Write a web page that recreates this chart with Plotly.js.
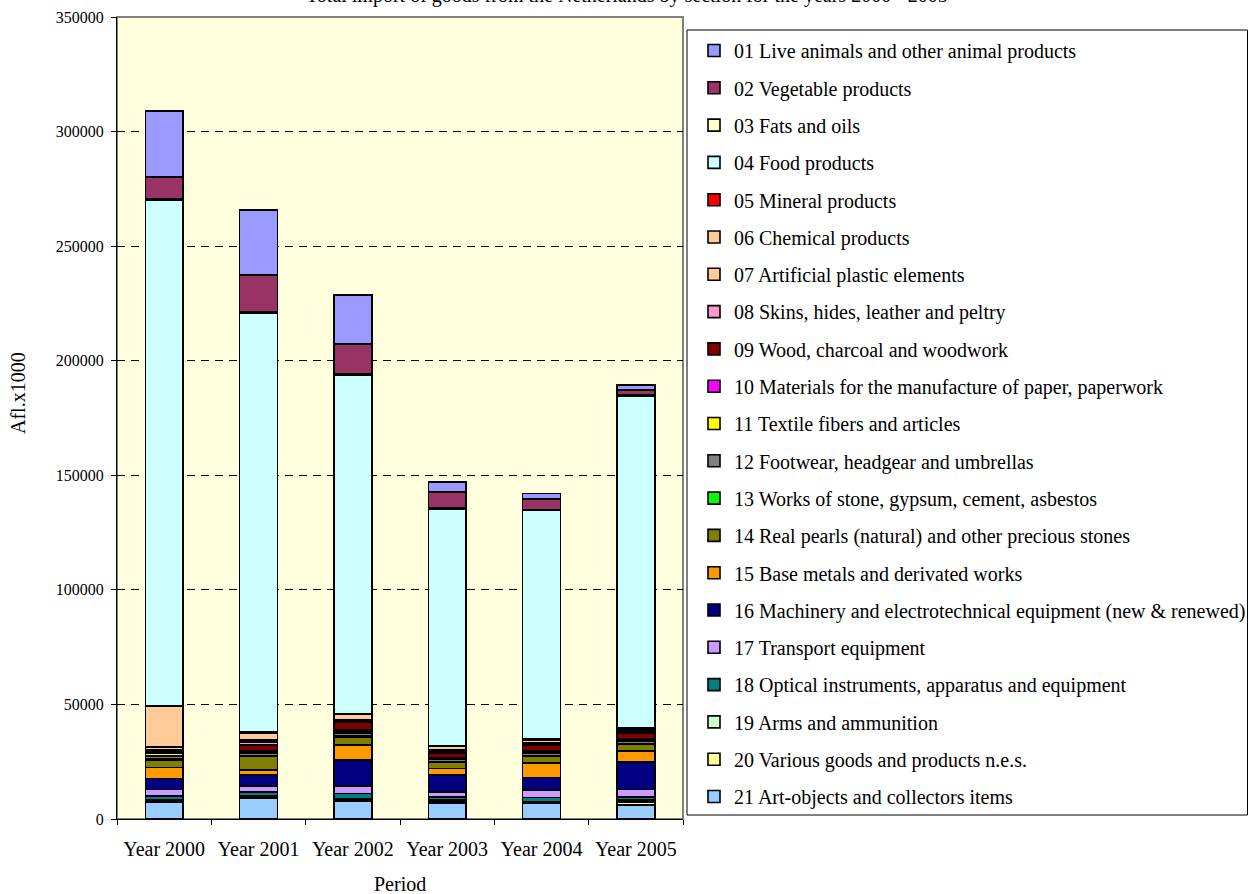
<!DOCTYPE html>
<html>
<head>
<meta charset="utf-8">
<script src="https://cdn.plot.ly/plotly-3.0.1.min.js"></script>
<style>html,body{margin:0;padding:0;background:#fff;}#chart{width:1248px;height:894px;}</style>
</head>
<body>
<div id="chart"></div>
<script>
const categories = ['Year 2000','Year 2001','Year 2002','Year 2003','Year 2004','Year 2005'];

const s01 = [29000, 28400, 21400, 4300, 2400, 2200];
const s02 = [9400, 16000, 13100, 7200, 4600, 2200];
const s03 = [700, 600, 600, 400, 400, 500];
const s04 = [220700, 182900, 147600, 103300, 99800, 144800];
const s05 = [200, 300, 200, 300, 300, 600];
const s06 = [17800, 3200, 2500, 1600, 1400, 700];
const s07 = [900, 700, 800, 600, 500, 400];
const s08 = [600, 1400, 300, 500, 500, 500];
const s09 = [1000, 2500, 3300, 2000, 2500, 2700];
const s10 = [300, 500, 700, 500, 400, 400];
const s11 = [900, 400, 600, 300, 400, 500];
const s12 = [1500, 1200, 1500, 1000, 1200, 1000];
const s13 = [300, 500, 600, 400, 400, 400];
const s14 = [3400, 5800, 3300, 2600, 2900, 2900];
const s15 = [4800, 2200, 6500, 2900, 6300, 4700];
const s16 = [4800, 4700, 11300, 7300, 5400, 12000];
const s17 = [2800, 2700, 3200, 2400, 3300, 3200];
const s18 = [1500, 1800, 2200, 1300, 1700, 1500];
const s19 = [300, 400, 500, 300, 300, 900];
const s20 = [800, 600, 700, 800, 500, 1200];
const s21 = [7400, 9000, 7800, 7100, 6850, 6100];

const seriesNames = [
  '01 Live animals and other animal products',
  '02 Vegetable products',
  '03 Fats and oils',
  '04 Food products',
  '05 Mineral products',
  '06 Chemical products',
  '07 Artificial plastic elements',
  '08 Skins, hides, leather and peltry',
  '09 Wood, charcoal and woodwork',
  '10 Materials for the manufacture of paper, paperwork',
  '11 Textile fibers and articles',
  '12 Footwear, headgear and umbrellas',
  '13 Works of stone, gypsum, cement, asbestos',
  '14 Real pearls (natural) and other precious stones',
  '15 Base metals and derivated works',
  '16 Machinery and electrotechnical equipment (new & renewed)',
  '17 Transport equipment',
  '18 Optical instruments, apparatus and equipment',
  '19 Arms and ammunition',
  '20 Various goods and products n.e.s.',
  '21 Art-objects and collectors items'
];
const seriesColors = ['#9999FF','#993366','#FFFFCC','#CCFFFF','#FF0000','#FFCC99','#FFCC99','#FF99CC','#800000','#FF00FF','#FFFF00','#808080','#00FF00','#808000','#FF9900','#000080','#CC99FF','#008080','#CCFFCC','#FFFF99','#99CCFF'];
const seriesValues = [s01,s02,s03,s04,s05,s06,s07,s08,s09,s10,s11,s12,s13,s14,s15,s16,s17,s18,s19,s20,s21];

const FONT = 'Liberation Serif, Times New Roman, serif';
const FS = 20;

const traces = [];
for (let i = seriesValues.length - 1; i >= 0; i--) {
  traces.push({
    type: 'bar',
    name: seriesNames[i],
    x: categories,
    y: seriesValues[i],
    legendgroup: 'g' + i,
    legendrank: i + 1,
    marker: {color: seriesColors[i], line: {color: '#000', width: 1.6}},
    hoverinfo: 'name+y'
  });
}

const L = 117, R = 683, T = 17, B = 819, W = 1248, H = 894;
const pw = R - L, ph = B - T;
const px = v => (v - L) / pw;
const py = v => (B - v) / ph;

const layout = {
  width: W, height: H,
  margin: {l: L, r: W - R, t: T, b: H - B, pad: 0, autoexpand: false},
  paper_bgcolor: '#ffffff',
  plot_bgcolor: '#FFFFDD',
  barmode: 'stack',
  bargap: 0.6,
  showlegend: true,
  font: {family: FONT, size: FS, color: '#000'},
  xaxis: {
    type: 'category',
    showline: true, linecolor: '#000', linewidth: 1,
    ticks: 'outside', tickson: 'boundaries', ticklen: 5, tickcolor: '#000',
    ticklabelstandoff: 12,
    tickfont: {family: FONT, size: FS, color: '#000'},
    showgrid: false, zeroline: false
  },
  yaxis: {
    range: [0, 350000], dtick: 50000, tick0: 0,
    tickformat: 'd',
    showline: true, linecolor: '#000', linewidth: 1,
    ticks: 'outside', ticklen: 5, tickcolor: '#000',
    ticklabelstandoff: 4,
    tickfont: {family: FONT, size: 16, color: '#000'},
    showgrid: true, gridcolor: '#000', gridwidth: 1, griddash: '8px,6px',
    zeroline: false
  },
  annotations: [
    {text: 'Total import of goods from the Netherlands by section for the years 2000 - 2005',
     xref: 'paper', yref: 'paper', x: px(627), y: py(-5),
     xanchor: 'center', yanchor: 'middle', showarrow: false,
     font: {family: FONT, size: FS, color: '#000'}},
    {text: 'Afl.x1000', xref: 'paper', yref: 'paper', x: px(18), y: py(393),
     xanchor: 'center', yanchor: 'middle', textangle: -90, showarrow: false,
     font: {family: FONT, size: FS, color: '#000'}},
    {text: 'Period', xref: 'paper', yref: 'paper', x: px(400), y: py(884),
     xanchor: 'center', yanchor: 'middle', showarrow: false,
     font: {family: FONT, size: FS, color: '#000'}}
  ],
  legend: {
    x: 694 / W, xanchor: 'left', xref: 'container',
    y: 1 - 31 / H, yanchor: 'top', yref: 'container',
    maxheight: 1,
    bgcolor: 'rgba(0,0,0,0)', borderwidth: 0,
    traceorder: 'grouped',
    tracegroupgap: 8.3,
    font: {family: FONT, size: FS, color: '#000'}
  },
  shapes: [
    {type: 'rect', xref: 'paper', yref: 'paper', x0: 0, x1: 1, y0: 0, y1: 1,
     line: {color: '#808080', width: 2}, fillcolor: 'rgba(0,0,0,0)', layer: 'below'},
    {type: 'rect', xref: 'paper', yref: 'paper', x0: px(687), x1: px(1247.5), y0: py(815), y1: py(30),
     line: {color: '#000', width: 1}, fillcolor: '#ffffff', layer: 'below'}
  ]
};

Plotly.newPlot('chart', traces, layout, {displayModeBar: false, staticPlot: true});
</script>
</body>
</html>
